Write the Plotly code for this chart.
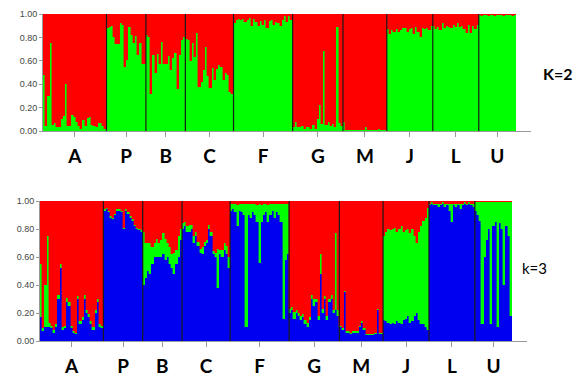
import plotly.graph_objects as go

# ---------------- data ----------------
pops = ["A", "P", "B", "C", "F", "G", "M", "J", "L", "U"]

# K=2 : green membership per individual (red = remainder)
k2_green_A = [0.48, 0.04, 0.30, 0.75, 0.05, 0.07, 0.03, 0.03, 0.10, 0.13, 0.40, 0.04, 0.04, 0.14, 0.12,
              0.08, 0.04, 0.02, 0.09, 0.04, 0.11, 0.12, 0.05, 0.04, 0.03, 0.07, 0.07, 0.04, 0.02]
k2_green_P = [0.88, 0.89, 0.90, 0.80, 0.74, 0.74, 0.92, 0.91, 0.55, 0.61, 0.89, 0.82, 0.75, 0.81, 0.65,
              0.75, 0.57, 0.57]
k2_green_B = [0.82, 0.80, 0.32, 0.65, 0.50, 0.66, 0.57, 0.76, 0.57, 0.57, 0.64, 0.52, 0.62, 0.67, 0.36,
              0.65, 0.78, 0.80]
k2_green_C = [0.79, 0.78, 0.60, 0.75, 0.63, 0.84, 0.38, 0.42, 0.52, 0.72, 0.47, 0.37, 0.54, 0.44, 0.53,
              0.56, 0.55, 0.44, 0.50, 0.48, 0.33, 0.32]
k2_green_F = [0.92, 0.95, 0.96, 0.95, 0.96, 0.93, 0.95, 0.97, 0.90, 0.96, 0.93, 0.90, 0.94, 0.91, 0.95,
              0.88, 0.94, 0.95, 0.91, 0.93, 0.92, 0.90, 0.95, 0.98, 0.93, 0.98, 0.95]
k2_green_G = [0.03, 0.08, 0.03, 0.03, 0.04, 0.02, 0.03, 0.03, 0.02, 0.05, 0.02, 0.10, 0.22, 0.06, 0.68,
              0.05, 0.08, 0.04, 0.06, 0.03, 0.89, 0.07, 0.04]
k2_green_M = [0.08, 0.01, 0.01, 0.01, 0.01, 0.01, 0.01, 0.01, 0.01, 0.01, 0.03, 0.01, 0.01, 0.01, 0.01,
              0.01, 0.02, 0.01, 0.01, 0.01]
k2_green_J = [0.87, 0.83, 0.86, 0.85, 0.87, 0.85, 0.86, 0.88, 0.88, 0.85, 0.87, 0.88, 0.83, 0.89, 0.85,
              0.80, 0.88, 0.87, 0.88, 0.86, 0.90]
k2_green_L = [0.90, 0.87, 0.89, 0.86, 0.92, 0.88, 0.90, 0.89, 0.88, 0.91, 0.89, 0.92, 0.89, 0.90, 0.87,
              0.84, 0.91, 0.84, 0.90, 0.87, 0.91]
k2_green_U = [0.99, 0.98, 0.99, 0.99, 0.98, 0.99, 0.99, 0.98, 0.99, 0.99, 0.99, 0.98, 0.99, 0.99, 0.99,
              0.98, 0.99]

# K=3 : blue and green membership per individual (red = remainder)
k3_blue_A = [0.17, 0.07, 0.10, 0.10, 0.10, 0.09, 0.06, 0.10, 0.30, 0.52, 0.08, 0.09, 0.28, 0.25, 0.09,
             0.06, 0.05, 0.30, 0.12, 0.15, 0.30, 0.20, 0.17, 0.12, 0.08, 0.20, 0.28, 0.10, 0.09]
k3_green_A = [0.38, 0.02, 0.30, 0.65, 0.03, 0.02, 0.02, 0.02, 0.03, 0.03, 0.02, 0.02, 0.03, 0.03, 0.02,
              0.01, 0.01, 0.02, 0.02, 0.02, 0.03, 0.02, 0.02, 0.02, 0.02, 0.02, 0.02, 0.02, 0.02]
k3_blue_P = [0.93, 0.94, 0.92, 0.88, 0.87, 0.90, 0.93, 0.93, 0.92, 0.80, 0.93, 0.91, 0.88, 0.86, 0.82,
             0.80, 0.79, 0.78]
k3_green_P = [0.01, 0.01, 0.01, 0.01, 0.01, 0.01, 0.01, 0.01, 0.01, 0.01, 0.01, 0.01, 0.01, 0.01, 0.01,
              0.01, 0.01, 0.01]
k3_blue_B = [0.40, 0.45, 0.50, 0.48, 0.55, 0.60, 0.60, 0.60, 0.60, 0.62, 0.58, 0.60, 0.55, 0.52, 0.48,
             0.55, 0.60, 0.72]
k3_green_B = [0.38, 0.25, 0.20, 0.22, 0.12, 0.10, 0.13, 0.10, 0.12, 0.15, 0.15, 0.10, 0.12, 0.10, 0.15,
              0.10, 0.15, 0.08]
k3_blue_C = [0.80, 0.82, 0.78, 0.78, 0.80, 0.70, 0.75, 0.68, 0.63, 0.62, 0.68, 0.70, 0.80, 0.75, 0.62,
             0.60, 0.38, 0.62, 0.60, 0.65, 0.62, 0.52]
k3_green_C = [0.04, 0.03, 0.04, 0.05, 0.03, 0.05, 0.03, 0.03, 0.03, 0.05, 0.03, 0.02, 0.03, 0.03, 0.02,
              0.03, 0.28, 0.03, 0.05, 0.05, 0.06, 0.08]
k3_blue_F = [0.93, 0.94, 0.92, 0.82, 0.93, 0.92, 0.90, 0.10, 0.90, 0.88, 0.92, 0.90, 0.85, 0.56, 0.85,
             0.90, 0.92, 0.85, 0.90, 0.93, 0.88, 0.92, 0.90, 0.85, 0.16, 0.58, 0.62]
k3_green_F = [0.05, 0.04, 0.06, 0.15, 0.05, 0.06, 0.08, 0.88, 0.08, 0.10, 0.06, 0.08, 0.12, 0.42, 0.12,
              0.08, 0.06, 0.12, 0.08, 0.05, 0.10, 0.06, 0.08, 0.13, 0.82, 0.40, 0.36]
k3_blue_G = [0.20, 0.22, 0.16, 0.20, 0.18, 0.15, 0.17, 0.12, 0.10, 0.15, 0.30, 0.25, 0.28, 0.15, 0.48,
             0.20, 0.30, 0.15, 0.28, 0.30, 0.20, 0.22, 0.18]
k3_green_G = [0.03, 0.02, 0.05, 0.02, 0.02, 0.03, 0.02, 0.03, 0.03, 0.02, 0.03, 0.05, 0.02, 0.03, 0.14,
              0.03, 0.02, 0.03, 0.02, 0.03, 0.02, 0.55, 0.04]
k3_blue_M = [0.10, 0.08, 0.35, 0.06, 0.06, 0.05, 0.06, 0.06, 0.06, 0.10, 0.13, 0.08, 0.04, 0.04, 0.04,
             0.04, 0.05, 0.22, 0.05, 0.05]
k3_green_M = [0.01, 0.01, 0.01, 0.01, 0.01, 0.01, 0.01, 0.01, 0.01, 0.01, 0.01, 0.01, 0.01, 0.01, 0.01,
              0.01, 0.01, 0.01, 0.01, 0.01]
k3_blue_J = [0.15, 0.14, 0.13, 0.12, 0.13, 0.12, 0.14, 0.13, 0.12, 0.15, 0.16, 0.18, 0.13, 0.14, 0.18,
             0.20, 0.15, 0.12, 0.12, 0.10, 0.08]
k3_green_J = [0.60, 0.64, 0.67, 0.67, 0.67, 0.69, 0.64, 0.67, 0.70, 0.63, 0.63, 0.62, 0.64, 0.66, 0.57,
              0.50, 0.63, 0.70, 0.74, 0.78, 0.87]
k3_blue_L = [0.97, 0.98, 0.97, 0.97, 0.96, 0.97, 0.98, 0.96, 0.97, 0.93, 0.85, 0.97, 0.96, 0.97, 0.94,
             0.97, 0.98, 0.97, 0.98, 0.97, 0.96]
k3_green_L = [0.01, 0.01, 0.01, 0.01, 0.02, 0.01, 0.01, 0.02, 0.01, 0.05, 0.13, 0.01, 0.02, 0.01, 0.04,
              0.01, 0.01, 0.01, 0.01, 0.01, 0.02]
k3_blue_U = [0.93, 0.90, 0.86, 0.12, 0.60, 0.72, 0.80, 0.12, 0.82, 0.85, 0.10, 0.84, 0.80, 0.40, 0.82,
             0.75, 0.18]
k3_green_U = [0.06, 0.09, 0.13, 0.87, 0.39, 0.27, 0.19, 0.87, 0.17, 0.14, 0.89, 0.15, 0.19, 0.59, 0.17,
              0.24, 0.81]

k2_green = [k2_green_A, k2_green_P, k2_green_B, k2_green_C, k2_green_F,
            k2_green_G, k2_green_M, k2_green_J, k2_green_L, k2_green_U]
k3_blue = [k3_blue_A, k3_blue_P, k3_blue_B, k3_blue_C, k3_blue_F,
           k3_blue_G, k3_blue_M, k3_blue_J, k3_blue_L, k3_blue_U]
k3_green = [k3_green_A, k3_green_P, k3_green_B, k3_green_C, k3_green_F,
            k3_green_G, k3_green_M, k3_green_J, k3_green_L, k3_green_U]

# ---------------- derived ----------------
RED, GREEN, BLUE = "#ff0000", "#00ff00", "#0000f0"

g2 = [v for grp in k2_green for v in grp]
r2 = [1 - v for v in g2]
b3 = [v for grp in k3_blue for v in grp]
g3 = [v for grp in k3_green for v in grp]
r3 = [max(0.0, 1 - b - g) for b, g in zip(b3, g3)]
N = len(g2)
xs = list(range(N))

sizes = [len(grp) for grp in k2_green]
bounds = []
centers = []
acc = 0
for s in sizes:
    centers.append(acc + (s - 1) / 2)
    acc += s
    bounds.append(acc - 0.5)

fig = go.Figure()


def add_bar(y, color, xa, ya):
    fig.add_trace(go.Bar(x=xs, y=y, marker=dict(color=color, line=dict(color=color, width=0.4)),
                         xaxis=xa, yaxis=ya, showlegend=False, hoverinfo="skip"))


add_bar(g2, GREEN, "x", "y")
add_bar(r2, RED, "x", "y")
add_bar(b3, BLUE, "x2", "y2")
add_bar(g3, GREEN, "x2", "y2")
add_bar(r3, RED, "x2", "y2")

W, H = 581, 379
shapes = []
for b in bounds[:-1]:
    for xr, yr in (("x", "y"), ("x2", "y2")):
        shapes.append(dict(type="line", xref=xr, yref=yr, x0=b, x1=b, y0=0, y1=1,
                           line=dict(color="#1a1a1a", width=1.2)))

tickfont_y = dict(family="Liberation Sans", size=9, color="#444")
tickfont_x = dict(family="Lato", size=19, color="#000", weight="bold")
yticks = [0, 0.2, 0.4, 0.6, 0.8, 1.0]


def xaxis(domain, extra):
    return dict(domain=domain, range=[-0.5, -0.5 + N * extra], showgrid=False, zeroline=False,
                showline=True, linecolor="#999", linewidth=1, ticks="outside", ticklen=5,
                tickcolor="#999", tickvals=centers, ticktext=pops, tickfont=tickfont_x,
                ticklabelstandoff=3, fixedrange=True, automargin=False)


def yaxis(domain, anchor):
    return dict(domain=domain, range=[0, 1], anchor=anchor, showgrid=False, zeroline=False,
                showline=True, linecolor="#999", linewidth=1, ticks="outside", ticklen=3,
                tickcolor="#999", tickvals=yticks, tickformat=".2f", tickfont=tickfont_y,
                fixedrange=True, automargin=False)


fig.update_layout(
    width=W, height=H, margin=dict(l=0, r=0, t=0, b=0, autoexpand=False),
    paper_bgcolor="white", plot_bgcolor="white",
    barmode="stack", bargap=0,
    xaxis=xaxis([43 / W, 531 / W], 488 / 473) | dict(anchor="y"),
    yaxis=yaxis([1 - 131 / H, 1 - 14 / H], "x"),
    xaxis2=xaxis([40 / W, 527 / W], 487 / 472) | dict(anchor="y2"),
    yaxis2=yaxis([1 - 341 / H, 1 - 201 / H], "x2"),
    shapes=shapes,
    annotations=[
        dict(text="<b>K=2</b>", x=558 / W, y=1 - 74 / H, xref="paper", yref="paper",
             xanchor="center", yanchor="middle",
             showarrow=False, font=dict(family="Lato", size=16, color="#000")),
        dict(text="k=3", x=534 / W, y=1 - 268 / H, xref="paper", yref="paper",
             xanchor="center", yanchor="middle",
             showarrow=False, font=dict(family="Lato", size=15, color="#000")),
    ],
)

fig.write_html("out.html", config={"displayModeBar": False},
               post_script="document.body.style.margin='0';document.body.style.overflow='hidden';")
